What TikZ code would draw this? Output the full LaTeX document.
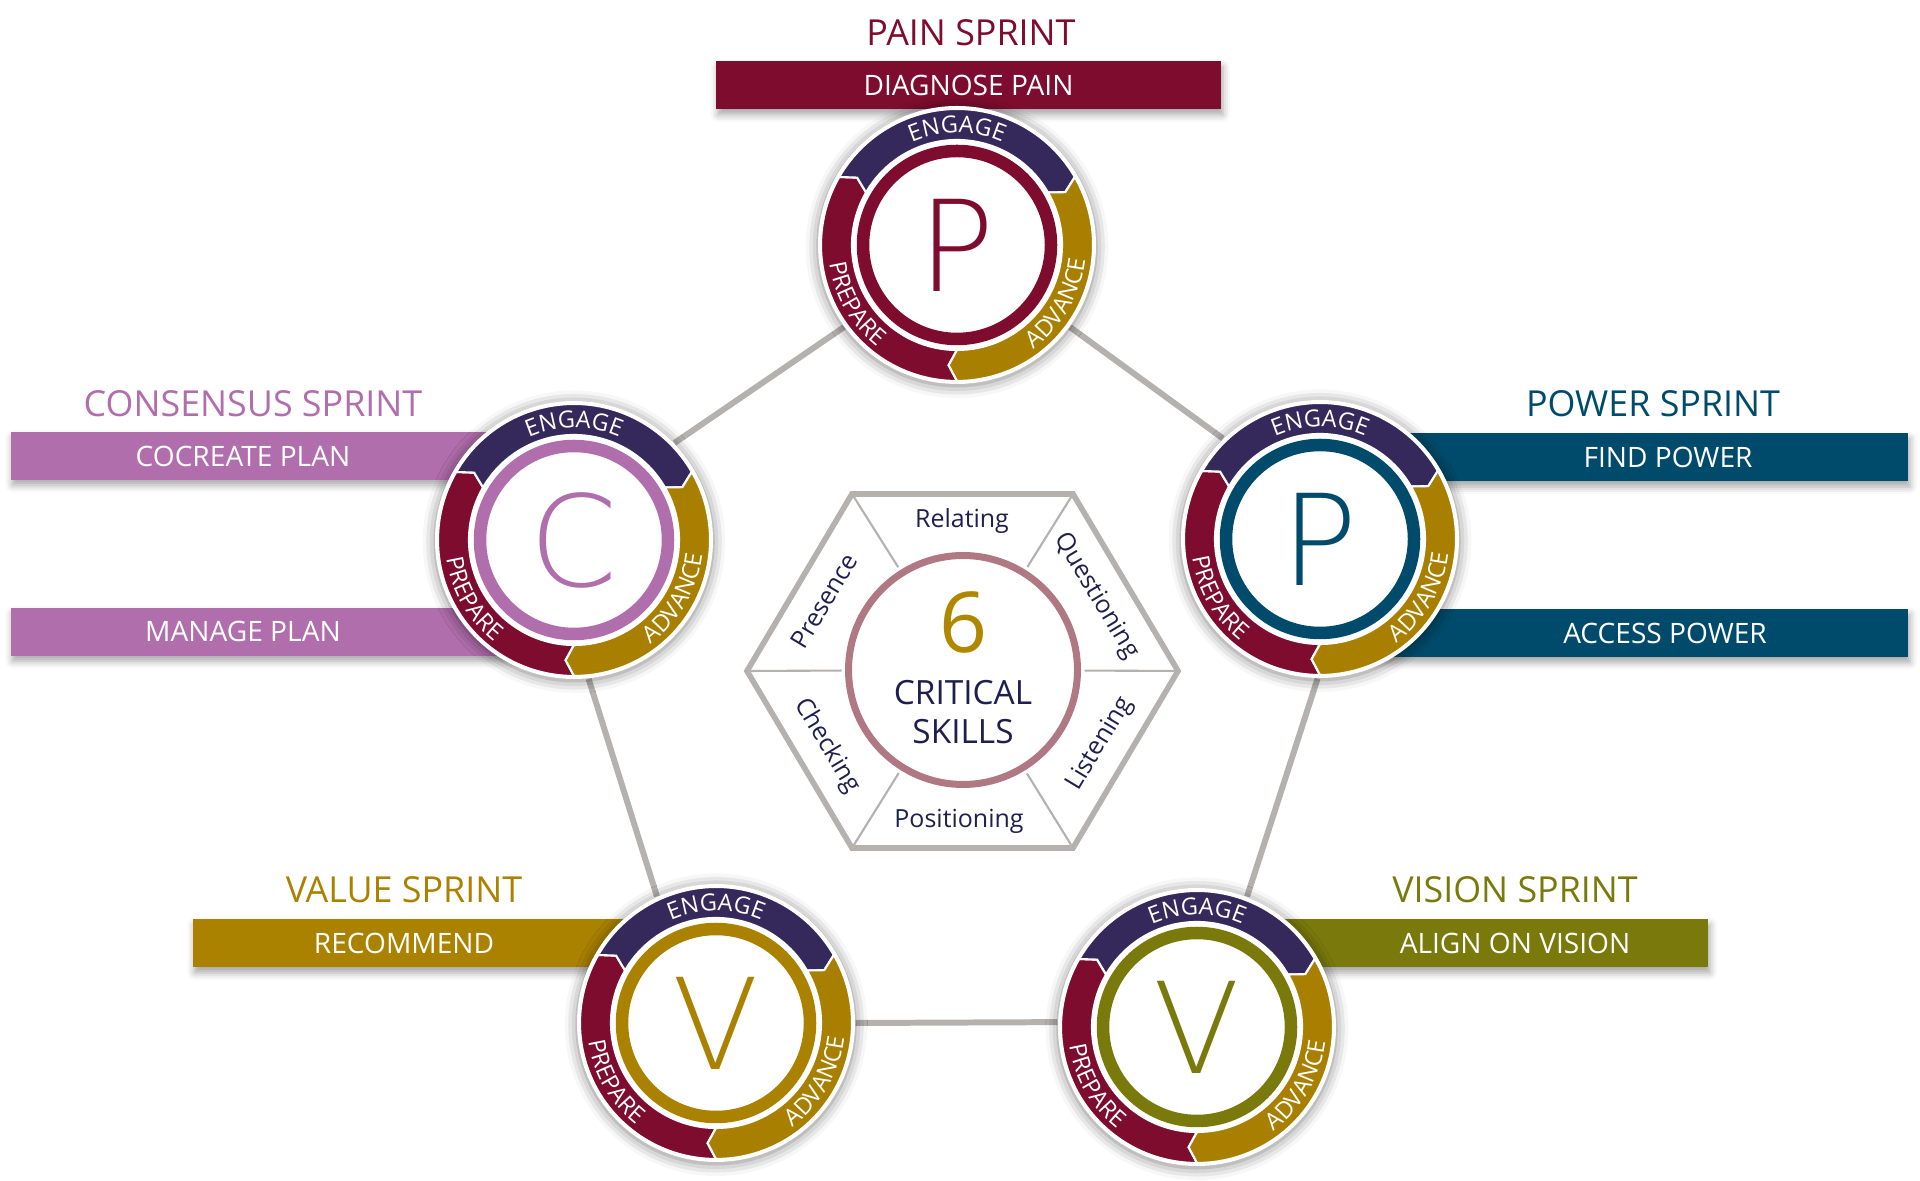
\documentclass[tikz,border=0pt]{standalone}
\usepackage{fontspec}
\setmainfont{Open Sans}
\IfFontExistsTF{DejaVuSans-ExtraLight.ttf}
  {\newfontfamily\wheelfont{DejaVuSans-ExtraLight.ttf}}
  {\newfontfamily\wheelfont{Open Sans}}
\usetikzlibrary{positioning, decorations.text, shadows.blur}

\definecolor{prepcol}{HTML}{7E0C2E}
\definecolor{engcol}{HTML}{35295C}
\definecolor{advcol}{HTML}{A97F00}
\definecolor{paincol}{HTML}{7E0C2E}
\definecolor{conscol}{HTML}{B16EAC}
\definecolor{powcol}{HTML}{004B6B}
\definecolor{valcol}{HTML}{AA8200}
\definecolor{viscol}{HTML}{7A7A0C}
\definecolor{linegray}{HTML}{B4B1AF}
\definecolor{ringrose}{HTML}{B07882}
\definecolor{skillnavy}{HTML}{1F1F4F}
\definecolor{sixgold}{HTML}{B08800}

\newcommand{\arcfont}{\fontsize{6.7}{7}\selectfont}

\newcommand{\wheelseg}[3]{%
  \filldraw[fill=#3, draw=white, line width=0.6pt]
    (#1:1.36) arc[start angle=#1, end angle=#2, radius=1.36]
    -- (#2-4:1.205) -- (#2:1.05)
    arc[start angle=#2, end angle=#1, radius=1.05]
    -- (#1-4:1.205) -- cycle;}

\newcommand{\sprintwheel}[3]{%
  \begin{scope}[shift={(#1)}]
    \fill[white, wheelshadow] (0,0) circle (1.39);
    \wheelseg{270}{150}{prepcol}
    \wheelseg{150}{30}{engcol}
    \wheelseg{30}{-90}{advcol}
    \path[arctext={ENGAGE}] (140:1.12) arc[start angle=140, end angle=40, radius=1.12];
    \path[arctext={PREPARE}] (165:1.29) arc[start angle=165, end angle=255, radius=1.29];
    \path[arctext={ADVANCE}] (-75:1.29) arc[start angle=-75, end angle=15, radius=1.29];
    \draw[#2, line width=0.125cm] (0,0) circle (0.94);
    \node[text=#2, font=\wheelfont\fontsize{36}{36}\selectfont, inner sep=0pt] (#1-letter) at (0,0) {#3};
  \end{scope}}

\begin{document}
\begin{tikzpicture}[
    hub/.style={circle, minimum size=2.78cm, inner sep=0pt},
    wheelshadow/.style={blur shadow={shadow xshift=0pt, shadow yshift=-0.5pt, shadow blur radius=3.5pt, shadow opacity=50}},
    arctext/.style={decorate, decoration={text along path, text align=center, text color=white, text={|\arcfont|#1}}},
    bar/.style={rectangle, fill=#1, minimum height=0.48cm, inner sep=0pt, text=white,
      font=\fontsize{8}{9}\selectfont,
      blur shadow={shadow xshift=0.5pt, shadow yshift=-1.5pt, shadow blur radius=2pt, shadow opacity=35}},
    bartext/.style={text=white, font=\fontsize{8}{9}\selectfont, inner sep=0pt},
    title/.style={text=#1, font=\fontsize{10.2}{12}\selectfont, inner sep=0pt},
    link/.style={draw=linegray, line width=1.7pt},
    hexline/.style={draw=linegray, line width=1.6pt, line join=miter},
    spoke/.style={draw=linegray, line width=0.6pt},
    skill/.style={text=skillnavy, font=\fontsize{7.1}{8}\selectfont, inner sep=0pt}]

  \useasboundingbox (0,0) rectangle (19.2,11.81);

  \coordinate (pain) at (9.57,9.36);
  \coordinate (cons) at (5.74,6.41);
  \coordinate (power) at (13.20,6.42);
  \coordinate (value) at (7.16,1.58);
  \coordinate (vision) at (11.97,1.54);
  \foreach \w in {pain,cons,power,value,vision}
    \node[hub] (\w-w) at (\w) {};

  \node[bar=paincol, minimum width=5.05cm] (diagnose) at (9.685,10.955) {DIAGNOSE PAIN};
  \node[bar=conscol, minimum width=5.64cm, anchor=west] (cocreate) at (0.10,7.25) {};
  \node[bartext] (cocreate-t) at (2.43,7.25) {COCREATE PLAN};
  \node[bar=conscol, minimum width=5.64cm, anchor=west] (manage) at (0.10,5.49) {};
  \node[bartext] (manage-t) at (2.43,5.50) {MANAGE PLAN};
  \node[bar=powcol, minimum width=5.89cm, anchor=east] (find) at (19.09,7.235) {};
  \node[bartext] (find-t) at (16.68,7.235) {FIND POWER};
  \node[bar=powcol, minimum width=5.89cm, anchor=east] (access) at (19.09,5.477) {};
  \node[bartext] (access-t) at (16.65,5.477) {ACCESS POWER};
  \node[bar=valcol, minimum width=5.24cm, anchor=west] (recommend) at (1.92,2.375) {};
  \node[bartext] (recommend-t) at (4.04,2.375) {RECOMMEND};
  \node[bar=viscol, minimum width=5.12cm, anchor=east] (alignv) at (17.09,2.375) {};
  \node[bartext] (alignv-t) at (15.15,2.375) {ALIGN ON VISION};

  \node[title=paincol] (pain-title) at (9.71,11.48) {PAIN SPRINT};
  \node[title=conscol] (cons-title) at (2.53,7.77) {CONSENSUS SPRINT};
  \node[title=powcol] (power-title) at (16.53,7.77) {POWER SPRINT};
  \node[title=valcol] (value-title) at (4.04,2.91) {VALUE SPRINT};
  \node[title=viscol] (vision-title) at (15.15,2.91) {VISION SPRINT};

  \draw[link] (pain-w.216) -- (cons-w.44);
  \draw[link] (pain-w.-36) -- (power-w.134);
  \draw[link] (cons-w.-84) -- (value-w.115);
  \draw[link] (power-w.-91) -- (vision-w.69);
  \draw[link] (value-w.0) -- (vision-w.178);

  \sprintwheel{pain}{paincol}{P}
  \sprintwheel{cons}{conscol}{C}
  \sprintwheel{power}{powcol}{P}
  \sprintwheel{value}{valcol}{V}
  \sprintwheel{vision}{viscol}{V}

  % six skills
  \coordinate (hL) at (7.47,5.10);
  \coordinate (hTL) at (8.52,6.87);
  \coordinate (hTR) at (10.73,6.87);
  \coordinate (hR) at (11.78,5.10);
  \coordinate (hBR) at (10.73,3.33);
  \coordinate (hBL) at (8.52,3.33);
  \draw[hexline] (hL) -- (hTL) -- (hTR) -- (hR) -- (hBR) -- (hBL) -- cycle;
  \node[circle, draw=ringrose, line width=0.07cm, minimum size=2.29cm, inner sep=0pt] (skills) at (9.63,5.11) {};
  \foreach \v in {hL,hTL,hTR,hR,hBR,hBL}
    \draw[spoke, shorten >=0.035cm] (\v) -- (skills);

  \node[text=sixgold, font=\fontsize{23.9}{24}\selectfont, inner sep=0pt] (six) at (9.63,5.58) {6};
  \node[text=skillnavy, font=\fontsize{9.5}{11.1}\selectfont, align=center, inner sep=0pt] (critical) at (9.63,4.685) {CRITICAL\\SKILLS};
  \node[skill] (relating) at (9.62,6.60) {Relating};
  \node[skill, rotate=-59] (questioning) at (10.96,5.85) {Questioning};
  \node[skill, rotate=59] (listening) at (11.00,4.37) {Listening};
  \node[skill] (positioning) at (9.59,3.60) {Positioning};
  \node[skill, rotate=-59] (checking) at (8.27,4.35) {Checking};
  \node[skill, rotate=59] (presence) at (8.24,5.80) {Presence};
\end{tikzpicture}
\end{document}
